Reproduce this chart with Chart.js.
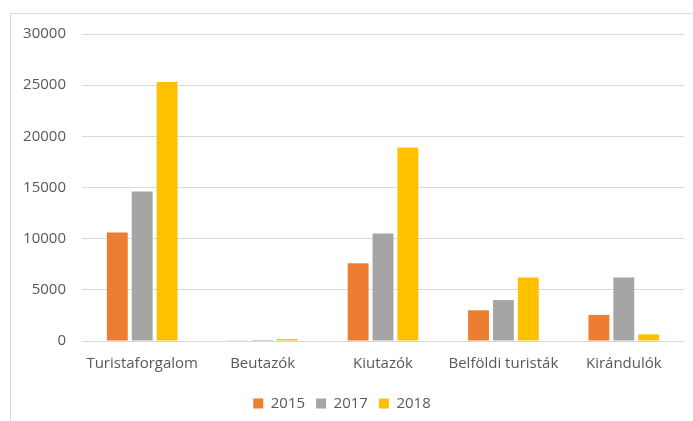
<!DOCTYPE html>
<html>
<head>
<meta charset="utf-8">
<script src="https://cdn.jsdelivr.net/npm/chart.js@4/dist/chart.umd.min.js"></script>
<style>
  body { margin: 0; background: #fff; }
  #frame { position: absolute; left: 10px; top: 13px; width: 700px; height: 420px;
           border-left: 1px solid #d9d9d9; border-top: 1px solid #d9d9d9; }
  #canvas { position: absolute; left: 0; top: 0; }
</style>
</head>
<body>
<div id="frame"></div>
<canvas id="canvas" width="693" height="421"></canvas>
<script>
var categories = ["Turistaforgalom", "Beutazók", "Kiutazók", "Belföldi turisták", "Kirándulók"];
var years = ["2015", "2017", "2018"];
var values2015 = [10600, 30, 7600, 3000, 2550];
var values2017 = [14600, 100, 10500, 4000, 6200];
var values2018 = [25300, 200, 18900, 6200, 650];
var colors = ["#ED7D31", "#A5A5A5", "#FFC000"];

var font = { family: "'Open Sans', 'Liberation Sans', sans-serif", size: 15 };

new Chart(document.getElementById("canvas"), {
  type: 'bar',
  data: {
    labels: categories,
    datasets: [
      { label: years[0], data: values2015, backgroundColor: colors[0] },
      { label: years[1], data: values2017, backgroundColor: colors[1] },
      { label: years[2], data: values2018, backgroundColor: colors[2] }
    ]
  },
  options: {
    responsive: false,
    animation: false,
    layout: { padding: { left: 0, right: 9, top: 34, bottom: 0 } },
    datasets: { bar: { categoryPercentage: 0.62, barPercentage: 0.84 } },
    plugins: {
      tooltip: { enabled: false },
      legend: {
        position: 'bottom',
        labels: { boxWidth: 10, boxHeight: 10, padding: 11, color: '#595959', font: font }
      }
    },
    scales: {
      x: {
        grid: { display: false },
        border: { color: '#d9d9d9' },
        ticks: { color: '#595959', font: font, padding: 6, maxRotation: 0 },
        afterFit: function(scale) { scale.height += 6; }
      },
      y: {
        min: 0, max: 30000,
        ticks: { stepSize: 5000, color: '#595959', font: font, padding: 16,
                 callback: function(v) { return String(v); } },
        grid: { color: '#d9d9d9', drawTicks: false },
        border: { display: false },
        afterFit: function(scale) { scale.width = 82; }
      }
    }
  }
});
</script>
</body>
</html>
